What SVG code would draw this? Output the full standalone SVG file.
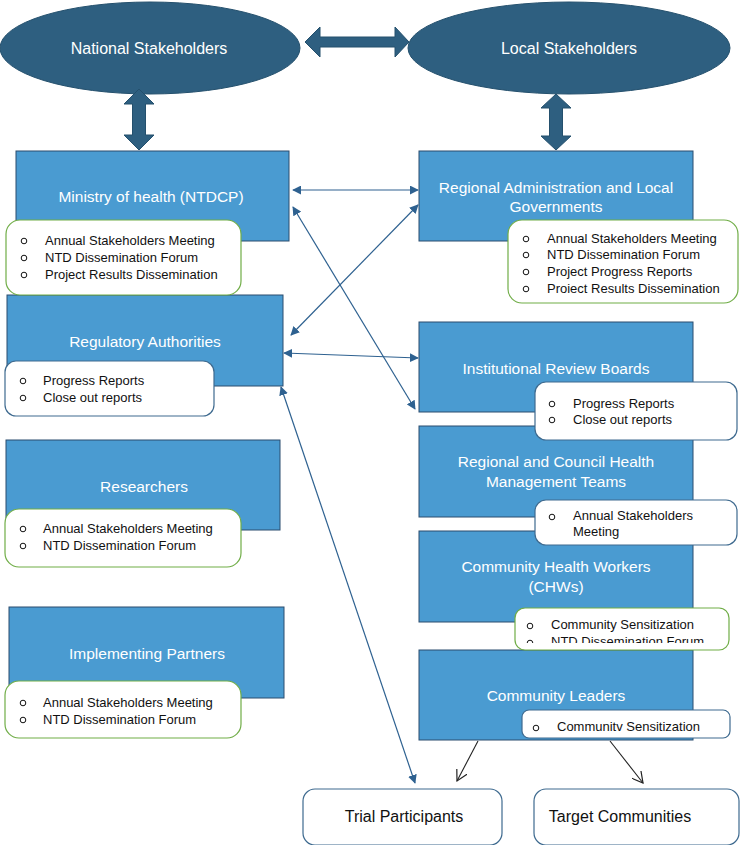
<svg xmlns="http://www.w3.org/2000/svg" width="742" height="845" viewBox="0 0 742 845">
<style>
.ell{fill:#2E5F80;stroke:#24506D;stroke-width:1}
.dbl{fill:#2E5F80;stroke:#24506D;stroke-width:1}
.box{fill:#4A9BD1;stroke:#2B4C6F;stroke-width:1}
.gbox{fill:#fff;stroke:#70AD47;stroke-width:1.2}
.bbox{fill:#fff;stroke:#3E6A8F;stroke-width:1.2}
.wt{fill:#fff;font-family:"Liberation Sans",Arial,sans-serif;font-size:15.5px;text-anchor:middle}
.et{fill:#fff;font-family:"Liberation Sans",Arial,sans-serif;font-size:16px;text-anchor:middle}
.bt{fill:#111;font-family:"Liberation Sans",Arial,sans-serif;font-size:13px}
.dot{fill:none;stroke:#111;stroke-width:1}
.ot{fill:#111;font-family:"Liberation Sans",Arial,sans-serif;font-size:16px;text-anchor:middle}
.bl{stroke:#2E6190;stroke-width:1.2;fill:none}
.bk{stroke:#222;stroke-width:1.1;fill:none}
</style>
<defs>
<marker id="ab" viewBox="0 0 10 10" refX="9" refY="5" markerWidth="9" markerHeight="9" markerUnits="userSpaceOnUse" orient="auto-start-reverse">
<path d="M0,0 L10,5 L0,10 z" fill="#2E6190"/>
</marker>
<marker id="ak" viewBox="0 0 12 12" refX="11" refY="6" markerWidth="12" markerHeight="12" markerUnits="userSpaceOnUse" orient="auto">
<path d="M0,0 L11,6 L0,12" fill="none" stroke="#222" stroke-width="1.2"/>
</marker>
<clipPath id="chwclip"><rect x="515" y="606" width="216" height="37"/></clipPath>
</defs>

<g id="national-stakeholders">
<ellipse class="ell" cx="150" cy="48" rx="150" ry="46"/>
<text class="et" x="149" y="54">National Stakeholders</text>
</g>
<g id="local-stakeholders">
<ellipse class="ell" cx="569" cy="48" rx="161" ry="46"/>
<text class="et" x="569" y="54">Local Stakeholders</text>
</g>

<g id="connectors">
<polygon class="dbl" points="305,42 320,27 320,37 395,37 395,27 409,42 395,57 395,47 320,47 320,57"/>
<polygon class="dbl" points="139,89 154,104 145.5,104 145.5,135 154,135 139,150 124,135 132.5,135 132.5,104 124,104"/>
<polygon class="dbl" points="556,94 571,108 562.5,108 562.5,136 571,136 556,150 541,136 549.5,136 549.5,108 541,108"/>
<line class="bl" x1="293" y1="190" x2="418" y2="190" marker-start="url(#ab)" marker-end="url(#ab)"/>
<line class="bl" x1="293" y1="207" x2="415" y2="409" marker-start="url(#ab)" marker-end="url(#ab)"/>
<line class="bl" x1="418" y1="205" x2="291" y2="335" marker-start="url(#ab)" marker-end="url(#ab)"/>
<line class="bl" x1="284" y1="353" x2="418" y2="358" marker-start="url(#ab)" marker-end="url(#ab)"/>
<line class="bl" x1="281" y1="387" x2="415" y2="783" marker-start="url(#ab)" marker-end="url(#ab)"/>
<line class="bk" x1="478" y1="741" x2="457" y2="781" marker-end="url(#ak)"/>
<line class="bk" x1="610" y1="741" x2="643" y2="783" marker-end="url(#ak)"/>
</g>

<g id="regulatory-authorities">
<rect class="box" x="7" y="295" width="276" height="91"/>
<text class="wt" x="145" y="347">Regulatory Authorities</text>
<rect class="bbox" x="5" y="361" width="209" height="55" rx="11"/>
<circle class="dot" cx="23" cy="381" r="2.8"/><text class="bt" x="43" y="385">Progress Reports</text>
<circle class="dot" cx="23" cy="398" r="2.8"/><text class="bt" x="43" y="402">Close out reports</text>
</g>

<g id="ministry-of-health">
<rect class="box" x="16" y="151" width="273" height="90"/>
<text class="wt" x="151" y="202">Ministry of health (NTDCP)</text>
<rect class="gbox" x="6" y="220" width="235" height="75" rx="14"/>
<circle class="dot" cx="24" cy="241" r="2.8"/><text class="bt" x="45" y="245">Annual Stakeholders Meeting</text>
<circle class="dot" cx="24" cy="258" r="2.8"/><text class="bt" x="45" y="262">NTD Dissemination Forum</text>
<circle class="dot" cx="24" cy="275" r="2.8"/><text class="bt" x="45" y="279">Project Results Dissemination</text>
</g>

<g id="regional-administration">
<rect class="box" x="419" y="151" width="274" height="90"/>
<text class="wt" x="556" y="193">Regional Administration and Local</text>
<text class="wt" x="556" y="212">Governments</text>
<rect class="gbox" x="508" y="220" width="230" height="83" rx="14"/>
<circle class="dot" cx="526" cy="239" r="2.8"/><text class="bt" x="547" y="243">Annual Stakeholders Meeting</text>
<circle class="dot" cx="526" cy="255" r="2.8"/><text class="bt" x="547" y="259">NTD Dissemination Forum</text>
<circle class="dot" cx="526" cy="272" r="2.8"/><text class="bt" x="547" y="276">Project Progress Reports</text>
<circle class="dot" cx="526" cy="289" r="2.8"/><text class="bt" x="547" y="293">Proiect Results Dissemination</text>
</g>

<g id="researchers">
<rect class="box" x="6" y="440" width="274" height="90"/>
<text class="wt" x="144" y="492">Researchers</text>
<rect class="gbox" x="5" y="509" width="236" height="58" rx="14"/>
<circle class="dot" cx="23" cy="529" r="2.8"/><text class="bt" x="43" y="533">Annual Stakeholders Meeting</text>
<circle class="dot" cx="23" cy="546" r="2.8"/><text class="bt" x="43" y="550">NTD Dissemination Forum</text>
</g>

<g id="implementing-partners">
<rect class="box" x="9" y="607" width="275" height="91"/>
<text class="wt" x="147" y="659">Implementing Partners</text>
<rect class="gbox" x="5" y="681" width="236" height="57" rx="14"/>
<circle class="dot" cx="23" cy="703" r="2.8"/><text class="bt" x="43" y="707">Annual Stakeholders Meeting</text>
<circle class="dot" cx="23" cy="720" r="2.8"/><text class="bt" x="43" y="724">NTD Dissemination Forum</text>
</g>

<g id="community-leaders">
<rect class="box" x="419" y="650" width="274" height="90"/>
<text class="wt" x="556" y="701">Community Leaders</text>
<rect class="bbox" x="522" y="710" width="208" height="28" rx="7"/>
<circle class="dot" cx="536" cy="728" r="2.8"/><text class="bt" x="557" y="731">Communitv Sensitization</text>
</g>

<g id="community-health-workers">
<rect class="box" x="419" y="531" width="274" height="91"/>
<text class="wt" x="556" y="572">Community Health Workers</text>
<text class="wt" x="556" y="592">(CHWs)</text>
<rect class="gbox" x="515" y="608" width="214" height="42" rx="10"/>
<g clip-path="url(#chwclip)">
<circle class="dot" cx="530" cy="626" r="2.8"/><text class="bt" x="551" y="629">Community Sensitization</text>
<circle class="dot" cx="530" cy="643" r="2.8"/><text class="bt" x="551" y="646">NTD Dissemination Forum</text>
</g>
</g>

<g id="regional-council-hmt">
<rect class="box" x="419" y="426" width="274" height="91"/>
<text class="wt" x="556" y="467">Regional and Council Health</text>
<text class="wt" x="556" y="487">Management Teams</text>
<rect class="bbox" x="535" y="500" width="202" height="45" rx="11"/>
<circle class="dot" cx="552" cy="517" r="2.8"/><text class="bt" x="573" y="520">Annual Stakeholders</text>
<text class="bt" x="573" y="536">Meeting</text>
</g>

<g id="institutional-review-boards">
<rect class="box" x="419" y="322" width="274" height="90"/>
<text class="wt" x="556" y="374">Institutional Review Boards</text>
<rect class="bbox" x="535" y="382" width="202" height="58" rx="11"/>
<circle class="dot" cx="552" cy="404" r="2.8"/><text class="bt" x="573" y="408">Progress Reports</text>
<circle class="dot" cx="552" cy="420" r="2.8"/><text class="bt" x="573" y="424">Close out reports</text>
</g>

<g id="trial-participants">
<rect class="bbox" x="303" y="789" width="199" height="56" rx="12"/>
<text class="ot" x="404" y="822">Trial Participants</text>
</g>

<g id="target-communities">
<rect class="bbox" x="534" y="789" width="205" height="56" rx="12"/>
<text class="ot" x="620" y="822">Target Communities</text>
</g>
</svg>
